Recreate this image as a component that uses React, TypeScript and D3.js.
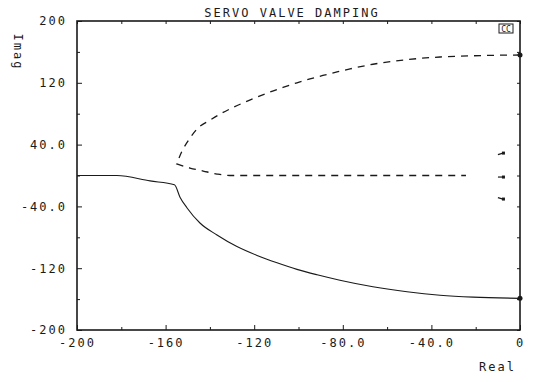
import React, { useEffect, useRef } from "react";
import * as d3 from "d3";

const width = 534;
const height = 382;
const margin = { top: 21, right: 14, bottom: 52, left: 77 };

// root locus branches
const solidReal = [-200, -182, -167, -156, -153.5, -150.3, -144.5, -136.8, -127.8, -118.7, -109.7, -100.7, -91.6, -81.3, -66.4, -51, -36.1, -21.2, 0];
const solidImag = [0, 0, -7, -12, -28, -42, -61.5, -77, -92, -103.5, -113, -121.5, -128.5, -135.5, -144, -150.5, -155, -157.5, -159];

// upper branch, from the breakaway point out to the axis
const upperReal = [-155, -152.7, -149, -145.4, -140, -135.4, -130, -124.2, -118.7, -112.9, -107, -100.7, -94.8, -89, -82.6, -76.7, -66.4, -51, -36.1, -21.2, 0];
const upperImag = [15, 30.8, 48.5, 61.5, 71.5, 79.5, 87.5, 95, 101.5, 108, 114, 120, 125, 129.5, 134, 138, 144, 150, 153.4, 155, 156];

// lower branch, back down to the real axis
const lowerReal = [-155, -149, -143, -136.8, -131, -24.4];
const lowerImag = [15, 9.7, 5.8, 1.9, 0, 0];

const endReal = [0, 0];
const endImag = [156, -159];

const markReal = [-7.7, -7.7, -7.7];
const markImag = [29, -2, -30.5];

const xTicks = [-200, -160, -120, -80, -40, 0];
const xLabels = ["-200", "-160", "-120", "-80.0", "-40.0", "0"];
const xMinor = [-180, -140, -100, -60, -20];
const yTicks = [-200, -120, -40, 40, 120, 200];
const yLabels = ["-200", "-120", "-40.0", "40.0", "120", "200"];
const yMinor = [-160, -80, 0, 80, 160];

const font = "DejaVu Sans Mono";

export default function App() {
    const ref = useRef<SVGSVGElement>(null);

    useEffect(() => {
        const svg = d3.select(ref.current);
        svg.selectAll("*").remove();

        const x = d3.scaleLinear().domain([-200, 0]).range([margin.left, width - margin.right]);
        const y = d3.scaleLinear().domain([-200, 200]).range([height - margin.bottom, margin.top]);

        const ink = "#1a1a1a";

        const style = (g) => {
            g.select(".domain").remove();
            g.selectAll("line").attr("stroke", ink).attr("stroke-width", 1);
            g.selectAll("text")
                .attr("fill", ink)
                .style("font-family", font)
                .style("font-size", "12px")
                .style("letter-spacing", "2px");
        };

        const fmtX = (d) => xLabels[xTicks.indexOf(d)];
        const fmtY = (d) => yLabels[yTicks.indexOf(d)];

        svg.append("g")
            .attr("transform", `translate(0,${height - margin.bottom})`)
            .call(d3.axisBottom(x).tickValues(xTicks).tickSize(-5).tickPadding(8).tickFormat(fmtX))
            .call(style);
        svg.append("g")
            .attr("transform", `translate(0,${height - margin.bottom})`)
            .call(d3.axisBottom(x).tickValues(xMinor).tickSize(-3).tickFormat(() => ""))
            .call(style);
        svg.append("g")
            .attr("transform", `translate(${margin.left},0)`)
            .call(d3.axisLeft(y).tickValues(yTicks).tickSize(-5).tickPadding(10).tickFormat(fmtY))
            .call(style);
        svg.append("g")
            .attr("transform", `translate(${margin.left},0)`)
            .call(d3.axisLeft(y).tickValues(yMinor).tickSize(-3).tickFormat(() => ""))
            .call(style);
        svg.append("g")
            .attr("transform", `translate(0,${margin.top})`)
            .call(d3.axisTop(x).tickValues(xTicks.concat(xMinor)).tickSize(-3).tickFormat(() => ""))
            .call(style);
        svg.append("g")
            .attr("transform", `translate(${width - margin.right},0)`)
            .call(d3.axisRight(y).tickValues(yTicks.concat(yMinor)).tickSize(-3).tickFormat(() => ""))
            .call(style);

        // frame
        svg.append("rect")
            .attr("x", margin.left)
            .attr("y", margin.top)
            .attr("width", width - margin.left - margin.right)
            .attr("height", height - margin.top - margin.bottom)
            .attr("fill", "none")
            .attr("stroke", ink)
            .attr("stroke-width", 1.6);

        const line = d3.line<number[]>()
            .curve(d3.curveMonotoneX);

        const pts = (rs, is) => rs.map((r, i) => [x(r), y(is[i])]);

        svg.append("path")
            .attr("d", line(pts(solidReal, solidImag)))
            .attr("fill", "none")
            .attr("stroke", ink)
            .attr("stroke-width", 1.1);

        // dashed branch drawn as one run: axis end -> breakaway -> real axis
        const dashed = line(pts(upperReal, upperImag).reverse()) + line(pts(lowerReal, lowerImag)).replace(/^M/, "L");
        svg.append("path")
            .attr("d", dashed)
            .attr("fill", "none")
            .attr("stroke", ink)
            .attr("stroke-width", 1.3)
            .attr("stroke-dasharray", "7,6");

        svg.selectAll(".end")
            .data(endReal)
            .enter()
            .append("circle")
            .attr("class", "end")
            .attr("cx", (d) => x(d))
            .attr("cy", (d, i) => y(endImag[i]))
            .attr("r", 2.5)
            .attr("fill", ink);

        // small pole marks near the imaginary axis
        svg.selectAll(".mark")
            .data(markReal)
            .enter()
            .append("path")
            .attr("class", "mark")
            .attr("d", (d, i) => {
                const cx = x(d);
                const cy = y(markImag[i]);
                const dy = i === 0 ? 1.5 : i === 2 ? -1.5 : 0;
                return `M${cx - 5},${cy + dy}L${cx},${cy}`;
            })
            .attr("stroke", ink)
            .attr("stroke-width", 1.2);
        svg.selectAll(".markdot")
            .data(markReal)
            .enter()
            .append("rect")
            .attr("class", "markdot")
            .attr("x", (d) => x(d) - 1)
            .attr("y", (d, i) => y(markImag[i]) - 1.5)
            .attr("width", 3)
            .attr("height", 3)
            .attr("fill", ink);

        // title and axis names
        const text = (s, tx, ty, anchor, extra = "") =>
            svg.append("text")
                .attr("x", tx)
                .attr("y", ty)
                .attr("text-anchor", anchor)
                .attr("transform", extra)
                .attr("fill", ink)
                .style("font-family", font)
                .style("font-size", "12px")
                .style("letter-spacing", "2px")
                .text(s);

        text("SERVO VALVE DAMPING", 292, 17, "middle");
        text("Real", 516, 371, "end");
        text("Imag", 0, 0, "middle", `translate(14,52) rotate(90)`);

        // plot id box
        const bx = x(0) - 21;
        svg.append("rect")
            .attr("x", bx)
            .attr("y", margin.top + 3)
            .attr("width", 14)
            .attr("height", 9)
            .attr("fill", "none")
            .attr("stroke", ink)
            .attr("stroke-width", 1);
        svg.append("text")
            .attr("x", bx + 7)
            .attr("y", margin.top + 10.5)
            .attr("text-anchor", "middle")
            .attr("fill", ink)
            .style("font-family", font)
            .style("font-size", "8px")
            .text("CC");
    }, []);

    return (
        <svg
            ref={ref}
            width={width}
            height={height}
            style={{ position: "absolute", left: 0, top: 0, background: "#fff" }}
        />
    );
}
